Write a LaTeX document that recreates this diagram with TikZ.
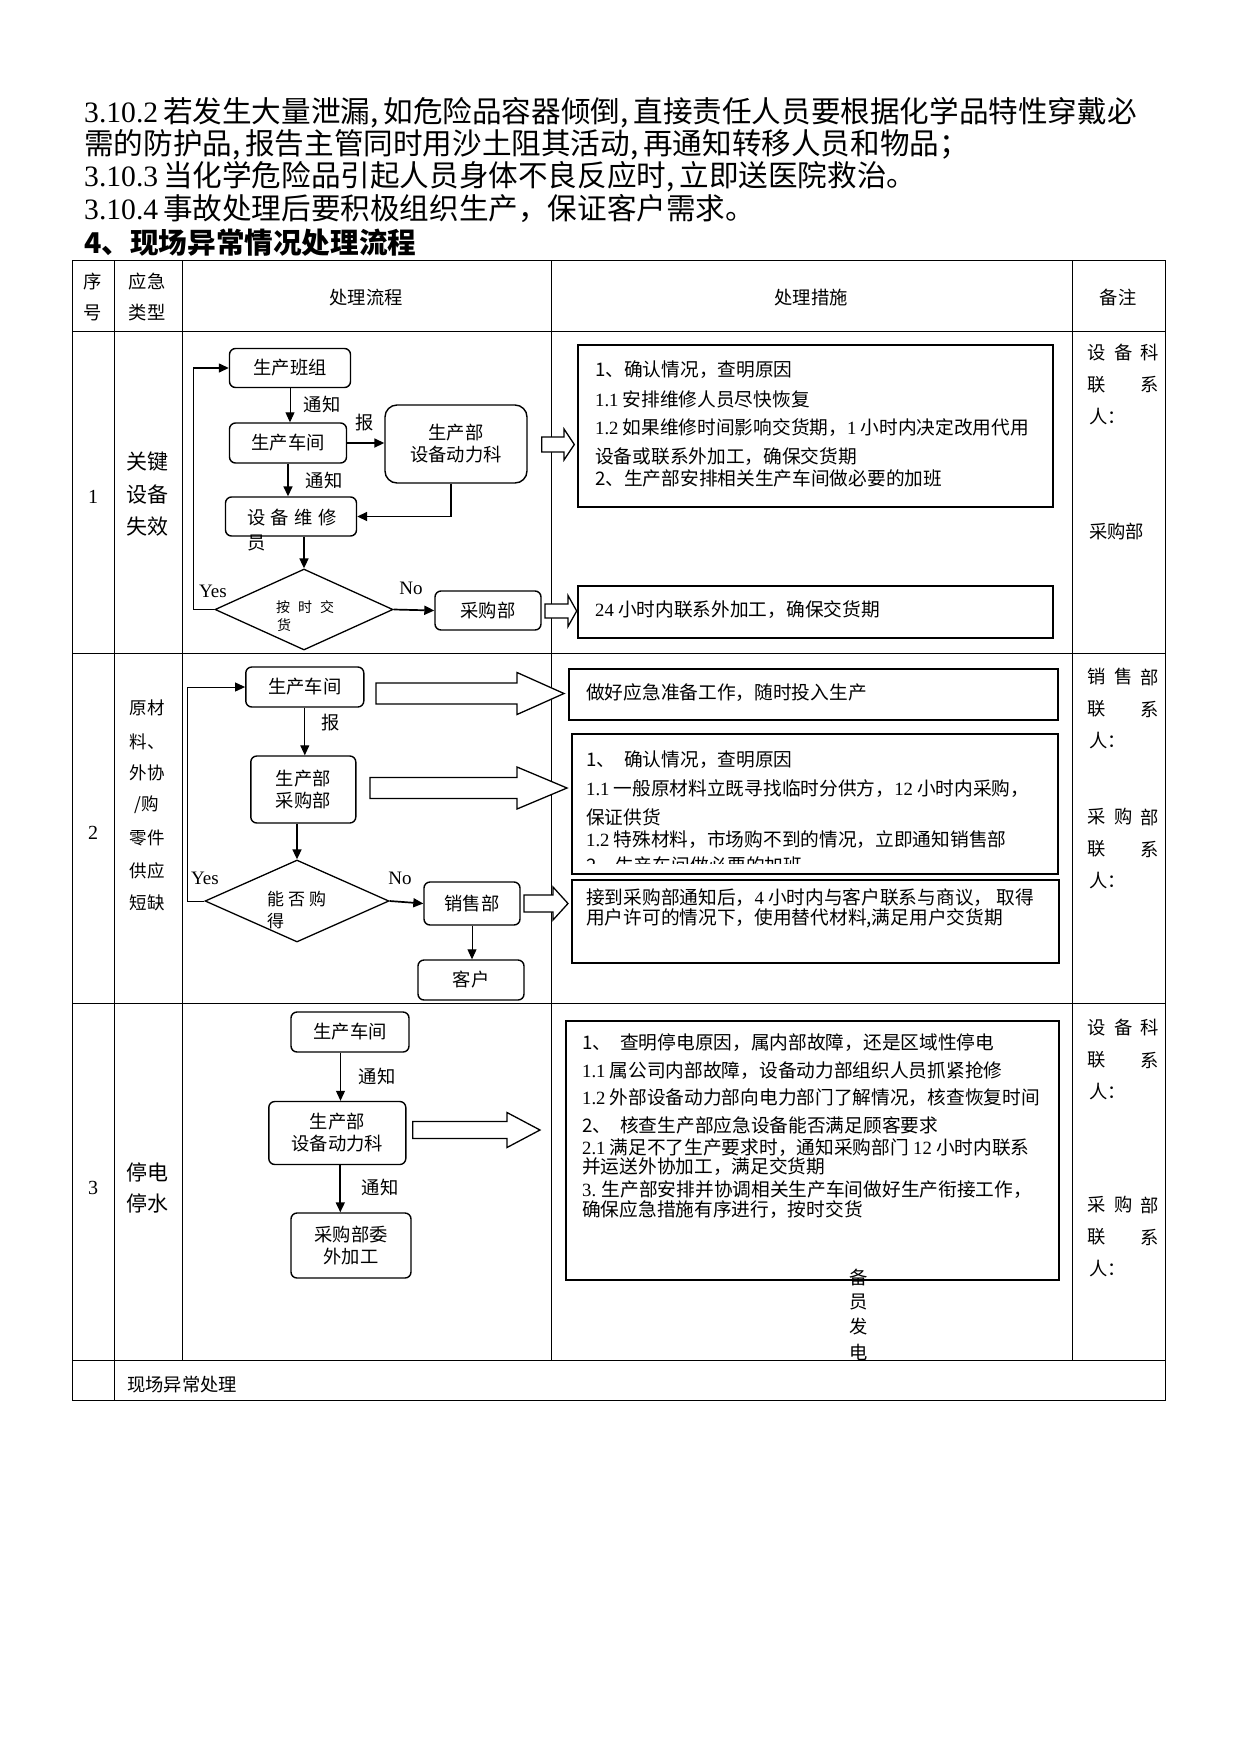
\documentclass[tikz,border=0pt]{standalone}
\usepackage{fontspec}
\setmainfont{Noto Sans CJK SC}
\newfontfamily\lf{Liberation Serif}
\usetikzlibrary{arrows.meta,shapes.geometric}

\tikzset{
  txt/.style={inner sep=0,font=\fontsize{18.3}{22}\selectfont},
  line/.style={txt,anchor=west},
  mline/.style={line,font=\fontsize{18.7}{22}\selectfont},
  flowbox/.style={draw,line width=1.4pt,rounded corners=6pt,inner sep=0,align=center,font=\fontsize{18.3}{22}\selectfont},
  decision/.style={draw,diamond,line width=1.3pt,inner sep=0},
  measurebox/.style={draw,line width=1.7pt,inner sep=0},
  arr/.style={-{Triangle[length=10pt,width=9pt]},line width=1.7pt},
  thinarr/.style={-{Triangle[length=10pt,width=9pt]},line width=1pt},
  blockarr/.style={line width=1.3pt,fill=white},
  grid/.style={line width=1pt}
}
\newcommand{\hollowarrow}[6]{%
  \draw[blockarr] (#1,#3-#4) -- (#6,#3-#4) -- (#6,#3-#5) -- (#2,#3) -- (#6,#3+#5) -- (#6,#3+#4) -- (#1,#3+#4) -- cycle;}
\newcommand{\spreadthree}[5]{%
  \node[txt] (#1a) at (1097,#2) {#3};
  \node[txt] (#1b) at (1124,#2) {#4};
  \node[txt] (#1c) at (1150,#2) {#5};}
\newcommand{\contact}[2]{%
  \node[txt] (#1a) at (1097,#2+32) {联};
  \node[txt] (#1b) at (1150,#2+32) {系};
  \node[line] (#1c) at (1089,#2+64) {人：};}

\begin{document}
\begin{tikzpicture}[x=1pt,y=-1pt]
\useasboundingbox (0,0) rectangle (1240,1754);
\fill[white] (0,0) rectangle (1240,1754);

% text above the table
\begin{scope}[every node/.style={anchor=west,inner sep=0,font=\fontsize{29.6}{32}\selectfont}]
\node (p1) at (84,113) {{\lf 3.10.2\,}若发生大量泄漏,\,如危险品容器倾倒,\,直接责任人员要根据化学品特性穿戴必};
\node (p2) at (84,145) {需的防护品,\,报告主管同时用沙土阻其活动,\,再通知转移人员和物品；};
\node (p3) at (84,177) {{\lf 3.10.3\,}当化学危险品引起人员身体不良反应时,\,立即送医院救治。};
\node (p4) at (84,209) {{\lf 3.10.4\,}事故处理后要积极组织生产，保证客户需求。};
\node[font=\fontsize{28.6}{32}\selectfont\bfseries] (title) at (84,243) {4、现场异常情况处理流程};
\end{scope}

% table
\draw[grid] (72.6,260) rectangle (1165,1400);
\foreach \y in {331,653,1003,1360} \draw[grid] (72.6,\y) -- (1165,\y);
\draw[grid] (114,260) -- (114,1400);
\foreach \x in {182,551,1072} \draw[grid] (\x,260) -- (\x,1360);

\node[txt] (h1a) at (93,282) {序};
\node[txt] (h1b) at (93,313) {号};
\node[txt] (h2a) at (147,282) {应急};
\node[txt] (h2b) at (147,313) {类型};
\node[txt] (h3) at (366,298) {处理流程};
\node[txt] (h4) at (811,298) {处理措施};
\node[txt] (h5) at (1118,298) {备注};

\node[txt,font=\lf\fontsize{20}{22}\selectfont] (n1) at (93,497) {1};
\node[txt,font=\lf\fontsize{20}{22}\selectfont] (n2) at (93,833) {2};
\node[txt,font=\lf\fontsize{20}{22}\selectfont] (n3) at (93,1188) {3};

\foreach \y/\t [count=\i] in {462/关键,495/设备,527/失效}
  \node[txt,font=\fontsize{21}{24}\selectfont] (ta\i) at (147,\y) {\t};
\foreach \y/\t [count=\i] in {708/原材,742/料、,773/外协,805/{/购},838/零件,871/供应,903/短缺}
  \node[txt,font=\fontsize{17.5}{22}\selectfont] (tb\i) at (147,\y) {\t};
\foreach \y/\t [count=\i] in {1172/停电,1203/停水}
  \node[txt,font=\fontsize{21}{24}\selectfont] (tc\i) at (147,\y) {\t};

% row 1: key equipment failure
\node[flowbox,minimum width=121pt,minimum height=39pt] (banzu) at (290,368) {生产班组};
\node[flowbox,minimum width=117pt,minimum height=40pt] (chejianA) at (288,443) {生产车间};
\node[flowbox,minimum width=142pt,minimum height=78pt,rounded corners=12pt] (dongliA) at (456,444) {生产部\\设备动力科};
\node[flowbox,minimum width=131pt,minimum height=39pt] (weixiu) at (291,516.5) {};
\node[line] (weixiuT) at (247,518) {设\hspace{5.5pt}备\hspace{5.5pt}维\hspace{5.5pt}修};
\node[line] (weixiuY) at (247,543) {员};
\node[decision,minimum width=178pt,minimum height=81pt] (ontime) at (304,609.5) {};
\node[line,font=\fontsize{14}{16}\selectfont] (ontimeT) at (276,607) {按\hspace{8pt}时\hspace{8pt}交};
\node[line,font=\fontsize{14}{16}\selectfont] (ontimeH) at (277,625) {货};
\node[flowbox,minimum width=106pt,minimum height=39pt] (caigouA) at (488,610.5) {采购部};

\draw[thinarr] (banzu.south) -- (banzu.south |- chejianA.north);
\node[txt] (tzA1) at (322,405) {通知};
\draw[arr] (chejianA.east) -- (dongliA.west |- chejianA.east);
\node[txt] (baoA) at (365,423) {报};
\draw[arr] (chejianA.south) -- (chejianA.south |- weixiu.north);
\node[txt] (tzA2) at (324,481) {通知};
\draw[arr] ([xshift=-5pt]dongliA.south) |- (weixiu.east);
\draw[arr] (weixiu.south -| ontime.north) -- (ontime.north);
\draw[arr,line width=1.4pt] (ontime.west) -- ++(-21,0) |- (banzu.west);
\node[txt,font=\lf\fontsize{19}{22}\selectfont] (yesA) at (213,591) {Yes};
\draw[arr] (ontime.east) -- (caigouA.west);
\node[txt,font=\lf\fontsize{19}{22}\selectfont] (noA) at (411,588) {No};

\hollowarrow{541.7}{574.3}{444.5}{7.5}{15.5}{564}
\hollowarrow{545}{576.7}{611}{7}{15.5}{568}

\node[measurebox,minimum width=475pt,minimum height=162pt] (measA1) at (815.5,426) {};
\foreach \y/\t [count=\i] in {370/{1、确认情况，查明原因},399/{{\lf 1.1} 安排维修人员尽快恢复},428/{{\lf 1.2} 如果维修时间影响交货期，{\lf 1} 小时内决定改用代用},457/{设备或联系外加工，确保交货期},478/{2、生产部安排相关生产车间做必要的加班}}
  \node[mline] (mA\i) at (595,\y) {\t};
\node[measurebox,minimum width=475pt,minimum height=52pt] (measA2) at (815.5,612) {};
\node[mline] (mA6) at (595,610) {{\lf 24} 小时内联系外加工，确保交货期};

\spreadthree{rA1}{353}{设}{备}{科}
\contact{rA2}{353}
\node[line] (rA3) at (1089,532) {采购部};

% row 2: material shortage
\node[flowbox,minimum width=118pt,minimum height=40pt] (chejianB) at (304.8,687) {生产车间};
\node[flowbox,minimum width=105pt,minimum height=67pt] (caigouB) at (303.3,789.5) {生产部\\采购部};
\node[decision,minimum width=184pt,minimum height=82pt] (canbuy) at (297,901) {};
\node[line,font=\fontsize{17}{20}\selectfont] (canbuyT) at (267,899) {能\hspace{4pt}否\hspace{4pt}购};
\node[line,font=\fontsize{17}{20}\selectfont] (canbuyD) at (267,921) {得};
\node[flowbox,minimum width=96pt,minimum height=43pt] (xiaoshou) at (472,903.5) {销售部};
\node[flowbox,minimum width=106pt,minimum height=40pt] (kehu) at (471,980) {客户};

\draw[thinarr] (chejianB.south) -- (chejianB.south |- caigouB.north);
\node[txt] (baoB) at (331,723) {报};
\draw[arr] (caigouB.south -| canbuy.north) -- (canbuy.north);
\draw[thinarr] (canbuy.west) -- ++(-17,0) |- (chejianB.west);
\node[txt,font=\lf\fontsize{19}{22}\selectfont] (yesB) at (205,878) {Yes};
\draw[arr] (canbuy.east) -- (xiaoshou.west);
\node[txt,font=\lf\fontsize{19}{22}\selectfont] (noB) at (400,878) {No};
\draw[thinarr] (xiaoshou.south) -- (xiaoshou.south |- kehu.north);

\hollowarrow{376}{564}{693.5}{10.5}{21}{517}
\hollowarrow{370}{567}{788}{10.5}{21}{517}
\hollowarrow{524}{568}{903.5}{8.5}{16.5}{553}

\node[measurebox,minimum width=489pt,minimum height=51pt] (measB1) at (813.5,694.5) {};
\node[mline] (mB1) at (586,693) {做好应急准备工作，随时投入生产};
\node[measurebox,line width=1.2pt,minimum width=486pt,minimum height=140pt] (measB2) at (815,804) {};
\foreach \y/\t [count=\i] in {760/{1、\hspace{9pt}确认情况，查明原因},789/{{\lf 1.1} 一般原材料立既寻找临时分供方，{\lf 12} 小时内采购，},817/{保证供货},840/{{\lf 1.2} 特殊材料，市场购不到的情况，立即通知销售部}}
  \node[mline] (mB1\i) at (586,\y) {\t};
\begin{scope}
\clip (572,734) rectangle (1058,863);
\node[mline] (mB15) at (586,865) {2、生产车间做必要的加班};
\end{scope}
\node[measurebox,line width=1.5pt,minimum width=487pt,minimum height=83pt] (measB3) at (815.5,921.5) {};
\node[mline] (mB2) at (586,898) {接到采购部通知后，{\lf 4} 小时内与客户联系与商议， 取得};
\node[mline] (mB3) at (586,918) {用户许可的情况下，使用替代材料,满足用户交货期};

\spreadthree{rB1}{677}{销}{售}{部}
\contact{rB2}{677}
\spreadthree{rB3}{817}{采}{购}{部}
\contact{rB4}{817}

% row 3: power or water cut
\node[flowbox,minimum width=118pt,minimum height=40pt] (chejianC) at (350,1032) {生产车间};
\node[flowbox,minimum width=137pt,minimum height=63pt] (dongliC) at (337.3,1133) {生产部\\设备动力科};
\node[flowbox,minimum width=120pt,minimum height=65pt] (weiwai) at (351,1245.5) {采购部委\\外加工};

\draw[thinarr] ([xshift=-9.5pt]chejianC.south) -- ([xshift=-9.5pt]chejianC.south |- dongliC.north);
\node[txt] (tzC1) at (377,1076) {通知};
\draw[arr] ([xshift=3pt]dongliC.south) -- ([xshift=3pt]dongliC.south |- weiwai.north);
\node[txt] (tzC2) at (380,1187) {通知};

\hollowarrow{412.7}{540}{1130}{8.5}{17.5}{507}

\node[measurebox,line width=2pt,minimum width=493pt,minimum height=259pt] (measC) at (812.5,1150.5) {};
\foreach \y/\t [count=\i] in {1043/{1、\hspace{9pt}查明停电原因，属内部故障，还是区域性停电},1071/{{\lf 1.1} 属公司内部故障，设备动力部组织人员抓紧抢修},1098/{{\lf 1.2} 外部设备动力部向电力部门了解情况，核查恢复时间},1125/{2、\hspace{9pt}核查生产部应急设备能否满足顾客要求},1148/{{\lf 2.1} 满足不了生产要求时，通知采购部门 {\lf 12} 小时内联系},1167/{并运送外协加工，满足交货期},1190/{{\lf 3.} 生产部安排并协调相关生产车间做好生产衔接工作，},1210/{确保应急措施有序进行，按时交货}}
  \node[mline] (mC\i) at (582,\y) {\t};
\foreach \y/\t [count=\i] in {1278/备,1302/员,1327/发,1352/电}
  \node[txt] (spare\i) at (859,\y) {\t};

\spreadthree{rC1}{1028}{设}{备}{科}
\contact{rC2}{1028}
\spreadthree{rC3}{1205}{采}{购}{部}
\contact{rC4}{1205}

% last row
\node[line] (foot) at (127,1385) {现场异常处理};
\end{tikzpicture}
\end{document}
